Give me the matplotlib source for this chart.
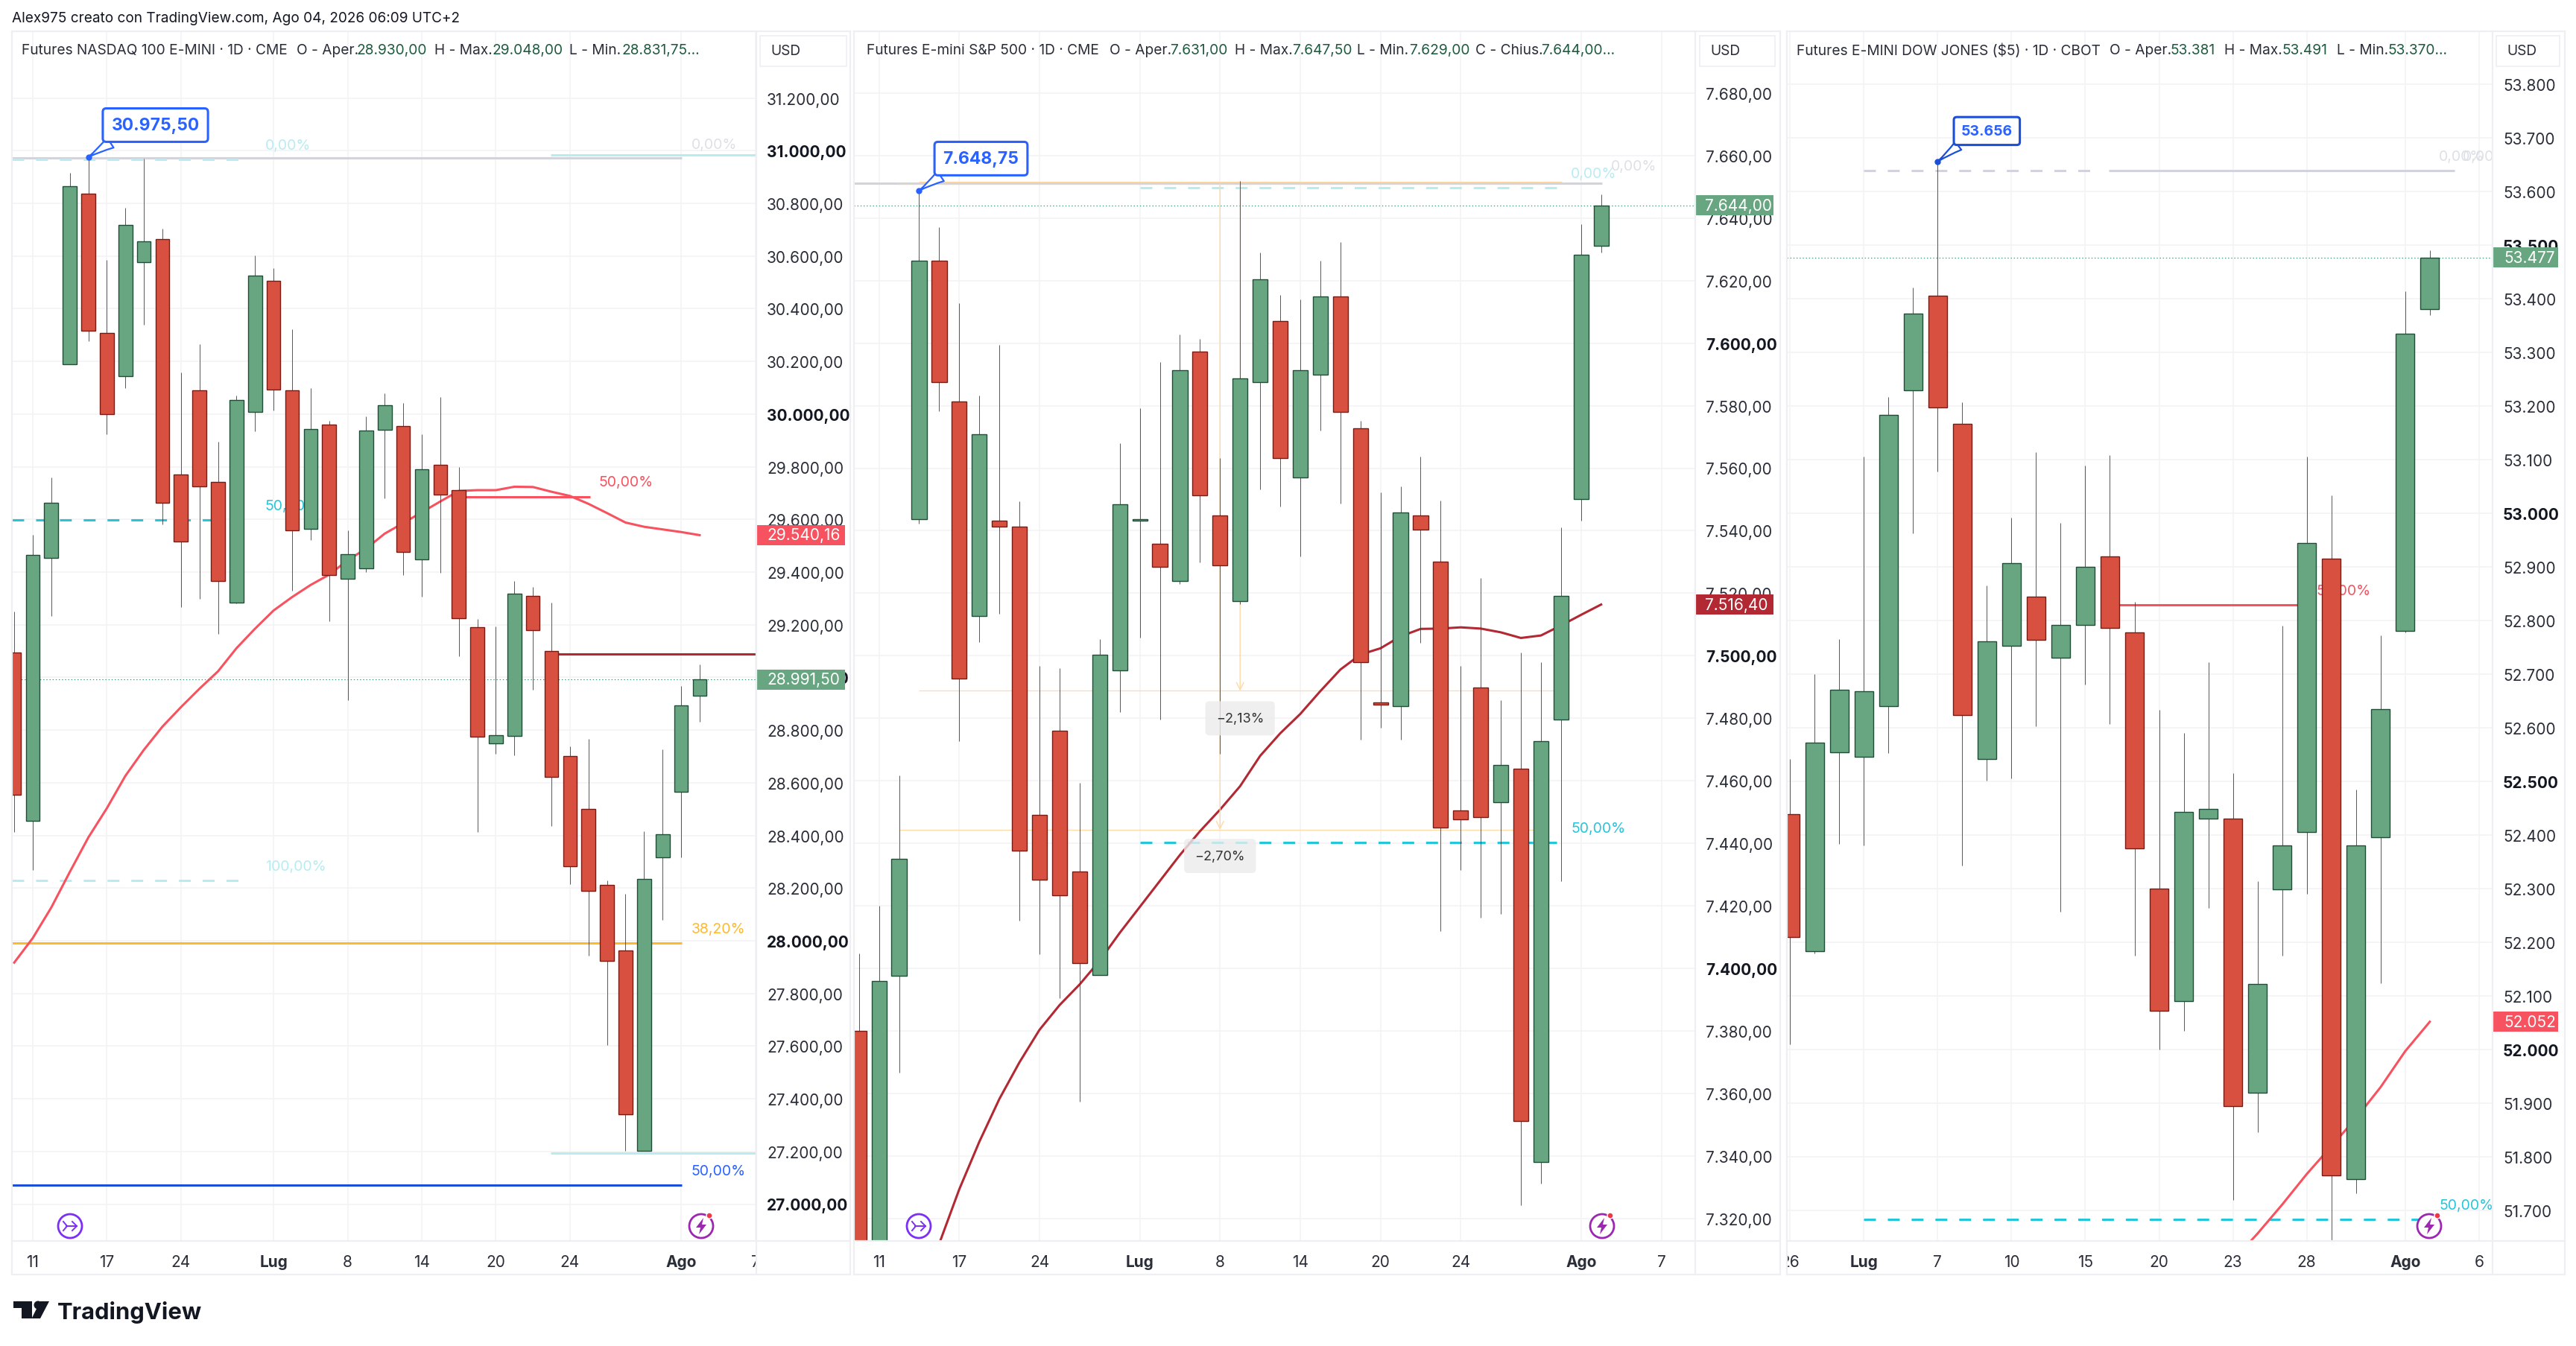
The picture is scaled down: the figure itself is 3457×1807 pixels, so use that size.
import matplotlib
matplotlib.use("Agg")
import matplotlib.pyplot as plt
from matplotlib.patches import Rectangle, Circle, Polygon
from matplotlib.lines import Line2D
from matplotlib.transforms import Affine2D, Bbox

W, H = 3457, 1808
plt.rcParams['font.family'] = ['Inter', 'DejaVu Sans']
plt.rcParams['lines.scale_dashes'] = False

# ---------- NASDAQ ----------
nq_open = [29094,28456,29455,30190,30838,30307,30143,30578,30663,29770,30090,29741,29283,30007,30505,30090,29565,29960,29374,29413,29939,29955,29447,29806,29710,29190,28749,28779,29310,29099,28702,28500,28212,27962,27202,28316,28566,28930]
nq_high = [29250,29542,29760,30916,30975.5,30585,30784,30971,30703,30158,30265,29895,30069,30601,30554,30322,30098,29974,29559,29992,30078,30043,29924,30065,29799,29221,29193,29366,29343,29284,28739,28766,28228,28179,28416,28728,28966,29048]
nq_low = [28412,28269,29232,30190,30276,29924,30098,30340,29580,29268,29297,29164,29280,29935,30013,29330,29521,29213,28913,29400,29679,29390,29306,29398,29081,28412,28711,28703,28954,28435,28215,27943,27605,27202,27202,28080,28316,28831.75]
nq_close = [28554,29465,29663,30864,30315,29999,30719,30655,29664,29515,29724,29367,30052,30525,30094,29557,29943,29390,29469,29937,30033,29476,29789,29693,29226,28775,28780,29317,29180,28623,28282,28189,27923,27340,28236,28403,28893,28991.5]
nq_ma = [27917,28010,28126,28261,28392,28503,28626,28725,28813,28887,28957,29023,29111,29185,29254,29305,29351,29390,29445,29489,29546,29586,29627,29668,29708,29711,29711,29724,29723,29705,29689,29659,29624,29588,29572,29562,29552,29540.16]
nq_dates = ['11','17','24','Lug','8','14','20','24','Ago','7']
nq_date_idx = [1,5,9,14,18,22,26,30,36,40]

# ---------- S&P 500 ----------
es_open = [7380,7290,7397.7,7543.6,7626.4,7581.2,7512.7,7543.3,7541.2,7449.2,7476.1,7431,7398,7495.4,7543.2,7535.9,7523.9,7597.2,7544.9,7517.5,7587.5,7607.1,7557.1,7589.8,7615,7572.8,7485,7484,7544.9,7530.2,7450.5,7489.9,7453.1,7464,7338.1,7479.6,7550,7631]
es_high = [7404.8,7420,7461.8,7648.75,7637,7612.7,7583.2,7599.5,7549.4,7496.7,7496,7459.4,7505.3,7568,7579.2,7594,7602.8,7601.4,7563.3,7651.8,7629,7615.3,7614,7626.3,7632.3,7575.1,7552.3,7554.2,7563.7,7549.6,7496.7,7524.8,7485.8,7501,7498,7541.1,7638,7647.5]
es_low = [7280,7280,7366.6,7542.3,7578.3,7472.6,7504.5,7513.4,7415.3,7404.6,7390.5,7357.5,7398,7482,7505.8,7479.7,7523,7529.8,7468.7,7516.6,7553.1,7547.7,7531.7,7572.1,7548.6,7473.2,7477,7473.2,7504.2,7411.9,7431.4,7416.3,7417.4,7324.3,7331.2,7427.9,7543.2,7629]
es_close = [7290,7396,7435,7626.4,7587.5,7492.8,7570.8,7541.2,7437.7,7428.3,7423.3,7401.7,7500.4,7548.4,7543.6,7528.4,7591.4,7551.2,7528.8,7588.8,7620.3,7563.1,7591.3,7614.8,7577.9,7497.9,7484.3,7545.8,7540.3,7445,7447.6,7448.3,7465.2,7351.2,7472.6,7519.2,7628.3,7644]
es_ma = [7295,7312,7329.4,7344.6,7358.3,7370,7380.4,7388.3,7394.9,7402.5,7411.4,7419.7,7428,7436.3,7443.9,7450.8,7458.3,7468,7475.2,7481.4,7488.7,7495.6,7500.4,7502.4,7506.2,7508.6,7508.7,7509.1,7508.7,7507.5,7505.7,7506.5,7509.7,7513.1,7516.4]
es_ma_start = 3
es_dates = ['11','17','24','Lug','8','14','20','24','Ago','7']
es_date_idx = [1,5,9,14,18,22,26,30,36,40]

# ---------- DOW ----------
ym_open = [52438.5,52183.5,52554.4,52545.5,52640.5,53230,53405.6,53166.5,52541.5,52753,52844.6,52730.7,52792,52919.5,52777.7,52300,52091,52430.5,52430.5,51919,52298.6,52405.6,52915.7,51758,52396,52781,53381]
ym_high = [52542.3,52700,52765,53106,53217.5,53421.5,53656,53207,52866,52992,53114.8,52982.5,53089,53109,52835,52634,52590.6,52722,52515.8,52314.6,52791,53106,53034,52485,52773,53414,53491]
ym_low = [52009.7,52180,52383.8,52380.6,52552.8,52963,53078,52343.6,52502,52506,52603.5,52256.7,52680.7,52607.5,52174.7,52000,52034.7,52264,51719,51846,52174.7,52290.5,51640,51732,52124,52778,53370]
ym_close = [52209.3,52572,52671,52667.8,53183,53372,53196.8,52623.6,52761,52906.8,52764,52792,52900,52786.5,52375,52073,52442.6,52449,51894,52123,52381.4,52944,51765,52380.6,52634.8,53334.7,53477]
ym_ma = [51607,51657,51711,51768,51820,51872,51930,51997,52052]
ym_ma_start = 18
ym_dates = ['26','Lug','7','10','15','20','23','28','Ago','6']
ym_date_idx = [0,3,6,9,12,15,18,21,25,28]

RED, GREEN = '#D85140', '#68A682'
RED_E, GREEN_E = '#7A1A14', '#1F4D38'
WICK = '#3C3C3C'
GRID = '#F2F3F5'
BORDER = '#EEEFF2'
TXT = '#2A2E39'
CY, CYL, GREY = '#26C6DA', '#B9ECF1', '#D1D4DC'
SALMON, DRED, ORANGE, BLUE = '#F7525F', '#B22833', '#FFB92C', '#1C4FD8'
ORANGE_T = '#FFD9A6'
DASH = (0, (11.5, 11.5))
FS = 14
TICK_FS = 15

fig = plt.figure(figsize=(W/100, H/100), dpi=100, facecolor='white')
T = Affine2D().scale(1, -1).translate(0, H)   # furniture, in image pixels


def fmt(v, dec):
    s = f"{v:,.{dec}f}"
    return s.replace(',', 'X').replace('.', ',').replace('X', '.')


def panel(left, right, top, bottom, xlim, ref_hi, ref_lo, y_hi, y_lo, ticks, bold_every, dec):
    ax = fig.add_axes([left/W, 1-bottom/H, (right-left)/W, (bottom-top)/H])
    k = (y_lo-y_hi)/(ref_hi-ref_lo)
    ax.set_ylim(ref_lo-(bottom-y_lo)/k, ref_hi+(y_hi-top)/k)
    ax.set_xlim(*xlim)
    ax.yaxis.tick_right()
    ax.set_yticks(ticks)
    ax.set_yticklabels([fmt(t, dec) for t in ticks])
    shift = Affine2D().translate(0, 2)
    for t, lab in zip(ticks, ax.get_yticklabels()):
        lab.set_fontweight('bold' if t % bold_every == 0 else 'normal')
        lab.set_color('#131722' if t % bold_every == 0 else TXT)
        lab.set_transform(lab.get_transform() + shift)
    ax.tick_params(axis='y', length=0, pad=10, labelsize=TICK_FS)
    ax.tick_params(axis='x', length=0, pad=13, labelsize=TICK_FS, colors=TXT)
    ax.grid(True, color=GRID, lw=1.1)
    ax.set_axisbelow(True)
    for s in ax.spines.values():
        s.set_visible(False)
    return ax


def candles(ax, o, h, l, c, width=0.75):
    x = list(range(len(o)))
    ax.vlines(x, l, h, color=WICK, lw=0.6, zorder=3)
    up = [i for i in x if c[i] >= o[i]]
    dn = [i for i in x if c[i] < o[i]]
    ax.bar(up, [c[i]-o[i] for i in up], bottom=[o[i] for i in up], width=width,
           color=GREEN, edgecolor=GREEN_E, linewidth=1.0, zorder=4)
    ax.bar(dn, [o[i]-c[i] for i in dn], bottom=[c[i] for i in dn], width=width,
           color=RED, edgecolor=RED_E, linewidth=1.0, zorder=4)


def level(ax, price, x0, x1, color, dashed=False, lw=2.2, z=2.4):
    ax.plot([x0, x1], [price, price], color=color, lw=lw, zorder=z,
            ls=DASH if dashed else '-', solid_capstyle='butt', dash_capstyle='butt')


def lev_label(ax, s, x, price, color, dy=13.7, z=2.6):
    ax.annotate(s, xy=(x, price), xytext=(0, dy), textcoords='offset points', va='center',
                ha='left', fontsize=FS, color=color, zorder=z, clip_on=True,
                annotation_clip=True)


def tag(ax, s, price, color, x_text_px, w_px, lpx, rpx, px_per):
    fx = (rpx-lpx)
    rect = Rectangle((1, price-13.5/px_per), w_px/fx, 27/px_per, transform=ax.get_yaxis_transform(),
                     color=color, clip_on=False, zorder=6, lw=0)
    ax.add_patch(rect)
    ax.text(1+(x_text_px)/fx, price, s, transform=ax.get_yaxis_transform(), va='center', ha='left',
            fontsize=TICK_FS, color='white', zorder=7, clip_on=False)


def callout(ax, s, x, price, dx, dy, ec, fs):
    ax.plot([x], [price], 'o', ms=5, color=ec, zorder=8)
    ax.annotate(s, xy=(x, price), xytext=(dx*0.72, dy*0.72), textcoords='offset points',
                ha='center', va='center', fontsize=fs, color='#2962FF', fontweight='bold', zorder=9,
                bbox=dict(boxstyle='round,pad=0.5,rounding_size=0.2', fc='white', ec=ec, lw=2.2),
                arrowprops=dict(arrowstyle='wedge,tail_width=0.7,shrink_factor=0.4', fc='white', ec=ec,
                                lw=1.6, shrinkA=0, shrinkB=0, relpos=(0.15, 0.0)))


def dates(ax, idx, labels, lpx, rpx):
    ax.set_xticks(idx)
    ax.set_xticklabels(labels)
    box = Bbox.from_extents(lpx, 0, rpx, H)
    for lab, s in zip(ax.get_xticklabels(), labels):
        if s in ('Lug', 'Ago'):
            lab.set_fontweight('bold')
        lab.set_clip_box(box)
        lab.set_clip_on(True)


def legend(items, y=68):
    for x, s, c in items:
        fig.add_artist(plt.Text(x, y, s, transform=T, va='center', ha='left', fontsize=13.8,
                                color=c, zorder=12))


def frame(l, axis, r, top=43, plot_bottom=1667, bottom=1712):
    for xs, ys in [([l, r], [top, top]), ([l, r], [bottom, bottom]), ([l, l], [top, bottom]),
                   ([r, r], [top, bottom]), ([l, r], [plot_bottom, plot_bottom]),
                   ([axis, axis], [top, bottom])]:
        fig.add_artist(Line2D(xs, ys, transform=T, color=BORDER, lw=1.6, zorder=10))


def usd(x0, x1):
    fig.add_artist(plt.Rectangle((x0, 49), x1-x0, 41, transform=T, fc='white', ec='#EEEFF2', lw=1.2, zorder=11))
    fig.add_artist(plt.Text(x0+14, 69.5, 'USD', transform=T, va='center', ha='left', fontsize=13.8,
                            color=TXT, zorder=12))


def icon_go(cx, cy=1647):
    c = '#7B2FF7'
    fig.add_artist(Circle((cx, cy), 16, transform=T, fc='white', ec=c, lw=2, zorder=12))
    for xs, ys in [([cx-5, cx+9], [cy, cy]), ([cx+3, cx+9, cx+3], [cy-6, cy, cy+6]),
                   ([cx-9, cx-4, cx-9], [cy-6, cy, cy+6])]:
        fig.add_artist(Line2D(xs, ys, transform=T, color=c, lw=1.4, zorder=13))


def icon_bolt(cx, cy=1647):
    c = '#9C27B0'
    fig.add_artist(Circle((cx, cy), 16, transform=T, fc='white', ec=c, lw=2, zorder=12))
    fig.add_artist(Polygon([(cx+3, cy-11), (cx-7, cy+2), (cx-1, cy+2), (cx-3, cy+11), (cx+7, cy-2), (cx+1, cy-2)],
                           transform=T, fc=c, ec='none', zorder=13))
    fig.add_artist(Circle((cx+11, cy-14), 4, transform=T, fc='#F23645', ec='white', lw=1, zorder=14))


# ========== Panel 1 ==========
L1, R1, PR1 = 16, 1015, 1141
ax1 = panel(L1, R1, 43, 1667, (-0.123, 40.06), 31200, 27000, 132.6, 1617.5,
            list(range(27000, 31201, 200)), 1000, 2)
px1 = (1617.5-132.6)/4200
level(ax1, 30973, -0.12, 36.05, GREY)
level(ax1, 30966, -0.12, 12.42, CYL, dashed=True)
level(ax1, 30985, 28.97, 40.03, CYL)
level(ax1, 29598, -0.12, 10.65, CY, dashed=True)
level(ax1, 29687, 24.0, 31.1, SALMON)
level(ax1, 29088, 29.03, 40.03, DRED)
level(ax1, 28230, -0.12, 12.42, CYL, dashed=True)
level(ax1, 27992, -0.12, 36.05, ORANGE)
level(ax1, 27194, 28.97, 40.03, CYL)
level(ax1, 27073, -0.12, 36.05, BLUE)
ax1.plot(range(len(nq_ma)), nq_ma, color=SALMON, lw=2.2, zorder=2.5)
ax1.plot([-0.12, 40.03], [nq_close[-1]]*2, ls=(0, (1, 2)), lw=0.8, color='#3E8E6E', zorder=2.5)
candles(ax1, nq_open, nq_high, nq_low, nq_close)
lev_label(ax1, '0,00%', 13.54, 30966, CYL)
lev_label(ax1, '0,00%', 36.55, 30985, '#DDE0E6', dy=10)
lev_label(ax1, '50,00%', 13.54, 29598, CY)
lev_label(ax1, '50,00%', 31.56, 29687, SALMON)
lev_label(ax1, '100,00%', 13.54, 28230, CYL)
lev_label(ax1, '38,20%', 36.55, 27992, ORANGE)
lev_label(ax1, '50,00%', 36.55, 27073, '#2962FF')
callout(ax1, '30.975,50', 4, 30975.5, 90, 43, '#2962FF', 16.5)
tag(ax1, '29.540,16', 29540.16, SALMON, 14, 119, L1, R1, px1)
tag(ax1, '28.991,50', 28991.5, GREEN, 14, 119, L1, R1, px1)
dates(ax1, nq_date_idx, nq_dates, L1, R1)
frame(L1, R1, PR1)
usd(1020, 1136)
legend([(29, 'Futures NASDAQ 100 E-MINI · 1D · CME', TXT), (398, 'O - Aper.', TXT), (479, '28.930,00', '#1E5B3F'),
        (583, 'H - Max.', TXT), (660, '29.048,00', '#1E5B3F'), (764, 'L - Min.', TXT), (834, '28.831,75...', '#1E5B3F')])
icon_go(94)
icon_bolt(941)

# ========== Panel 2 ==========
L2, R2, PR2 = 1146, 2275, 2389
ax2 = panel(L2, R2, 43, 1667, (-0.25, 41.69), 7680, 7320, 125.7, 1637.1,
            list(range(7320, 7681, 20)), 100, 2)
px2 = (1637.1-125.7)/360
level(ax2, 7651, -0.25, 37.05, GREY)
level(ax2, 7651.7, 3, 35.03, ORANGE_T, lw=0.9)
level(ax2, 7650.9, 1.94, 34.0, '#F5D3A3', lw=0.9)
level(ax2, 7649.7, 14.03, 35.03, CYL, dashed=True)
level(ax2, 7488.8, 3, 34.63, ORANGE_T, lw=0.9)
level(ax2, 7444.4, 2.03, 33.67, ORANGE_T, lw=0.9)
level(ax2, 7440.3, 14.03, 35.03, CY, dashed=True)
for xa, p0, p1 in [(18, 7650.9, 7444.4), (19, 7651.7, 7488.8)]:
    ax2.annotate('', xy=(xa, p1), xytext=(xa, p0), zorder=2.6,
                 arrowprops=dict(arrowstyle='->,head_width=0.35,head_length=0.7', color=ORANGE_T, lw=1.0,
                                 shrinkA=0, shrinkB=0))
ax2.plot(range(es_ma_start, es_ma_start+len(es_ma)), es_ma, color=DRED, lw=2.2, zorder=2.5)
ax2.plot([-0.25, 41.69], [es_close[-1]]*2, ls=(0, (1, 2)), lw=0.8, color='#3E8E6E', zorder=2.5)
candles(ax2, es_open, es_high, es_low, es_close)
lev_label(ax2, '0,00%', 35.5, 7649.7, CYL)
lev_label(ax2, '0,00%', 37.5, 7651, '#DDE0E6', dy=17)
lev_label(ax2, '50,00%', 35.5, 7440.3, CY)
for s, xa, p in [('−2,13%', 19, 7480), ('−2,70%', 18, 7436)]:
    ax2.text(xa, p, s, ha='center', va='center', fontsize=13, color='#333333', zorder=5,
             bbox=dict(boxstyle='round,pad=0.8,rounding_size=0.3', fc='#ECECEC', ec='none', alpha=0.8))
callout(ax2, '7.648,75', 3, 7648.75, 83, 43, '#2962FF', 16.5)
tag(ax2, '7.644,00', 7644, GREEN, 13, 105, L2, R2, px2)
tag(ax2, '7.516,40', 7516.4, DRED, 13, 105, L2, R2, px2)
dates(ax2, es_date_idx, es_dates, L2, R2)
frame(L2, R2, PR2)
usd(2281, 2382)
legend([(1163, 'Futures E-mini S&P 500 · 1D · CME', TXT), (1489, 'O - Aper.', TXT), (1570, '7.631,00', '#1E5B3F'),
        (1657, 'H - Max.', TXT), (1734, '7.647,50', '#1E5B3F'), (1821, 'L - Min.', TXT), (1891, '7.629,00', '#1E5B3F'),
        (1980, 'C - Chius.', TXT), (2068, '7.644,00...', '#1E5B3F')])
icon_go(1233)
icon_bolt(2150)

# ========== Panel 3 ==========
L3, R3, PR3 = 2398, 3345, 3442
ax3 = panel(L3, R3, 43, 1667, (-0.127, 28.55), 53800, 51700, 114.2, 1626.1,
            list(range(51700, 53801, 100)), 500, 0)
px3 = (1626.1-114.2)/2100
level(ax3, 53639, 2.99, 12.53, GREY, dashed=True)
level(ax3, 53639, 12.96, 27.0, GREY)
level(ax3, 52829.5, 13.38, 20.87, SALMON)
level(ax3, 51683, 2.99, 25.85, CY, dashed=True)
ax3.plot(range(ym_ma_start, ym_ma_start+len(ym_ma)), ym_ma, color=SALMON, lw=2.2, zorder=2.5)
ax3.plot([-0.127, 28.55], [ym_close[-1]]*2, ls=(0, (1, 2)), lw=0.8, color='#3E8E6E', zorder=2.5)
candles(ax3, ym_open, ym_high, ym_low, ym_close)
lev_label(ax3, '0,00%', 26.38, 53639, '#DDE0E6')
lev_label(ax3, '0,00%', 27.33, 53639, '#DDE0E6')
lev_label(ax3, '50,00%', 21.4, 52829.5, SALMON)
lev_label(ax3, '50,00%', 26.38, 51683, CY)
callout(ax3, '53.656', 6, 53656, 66, 41, BLUE, 14)
tag(ax3, '53.477', 53477, GREEN, 15, 88, L3, R3, px3)
tag(ax3, '52.052', 52052, SALMON, 15, 88, L3, R3, px3)
dates(ax3, ym_date_idx, ym_dates, L3, R3)
frame(L3, R3, PR3)
usd(3350, 3435)
legend([(2411, 'Futures E-MINI DOW JONES ($5) · 1D · CBOT', TXT), (2831, 'O - Aper.', TXT), (2913, '53.381', '#1E5B3F'),
        (2985, 'H - Max.', TXT), (3063, '53.491', '#1E5B3F'), (3136, 'L - Min.', TXT), (3204, '53.370...', '#1E5B3F')])
icon_bolt(3260)

# ---------- header and logo ----------
fig.add_artist(plt.Text(16, 25, 'Alex975 creato con TradingView.com, Ago 04, 2026 06:09 UTC+2', transform=T,
                        va='center', ha='left', fontsize=13.7, color='#131722', zorder=12))
fig.add_artist(Polygon([(18, 1748), (42.5, 1748), (42.5, 1771), (29, 1771), (29, 1757), (18, 1757)], transform=T,
                       fc='#131722', ec='none', zorder=12))
fig.add_artist(Circle((51, 1753), 5.5, transform=T, fc='#131722', ec='none', zorder=12))
fig.add_artist(Polygon([(54, 1748), (66, 1748), (54, 1771), (42.5, 1771)], transform=T, fc='#131722', ec='none', zorder=12))
fig.add_artist(plt.Text(77, 1762, 'TradingView', transform=T, va='center', ha='left', fontsize=22.3,
                        fontweight='bold', color='#131722', zorder=12))

fig.savefig('out.png', dpi=100, facecolor='white')
